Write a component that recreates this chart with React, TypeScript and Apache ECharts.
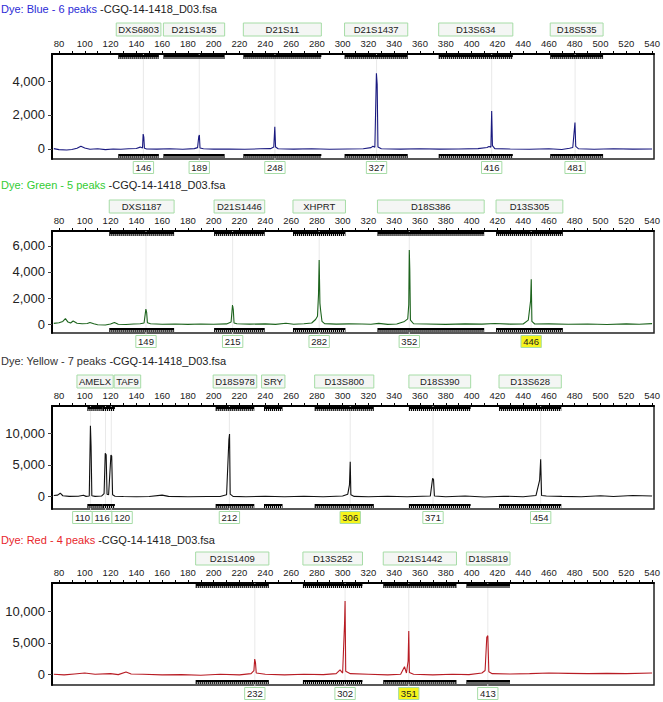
import React, { useEffect, useRef } from "react";
import * as echarts from "echarts";

const FONT = "'Liberation Sans', Arial, Helvetica, sans-serif";
const fileName = " -CGQ-14-1418_D03.fsa";

// x axis tick labels (bp)
const xTickLabels = [80, 100, 120, 140, 160, 180, 200, 220, 240, 260, 280, 300, 320, 340, 360, 380, 400, 420, 440, 460, 480, 500, 520, 540];
const xTickMarks = [80, 90, 100, 110, 120, 130, 140, 150, 160, 170, 180, 190, 200, 210, 220, 230, 240, 250, 260, 270, 280, 290, 300, 310, 320, 330, 340, 350, 360, 370, 380, 390, 400, 410, 420, 430, 440, 450, 460, 470, 480, 490, 500, 510, 520, 530, 540];

// y tick labels
const yTicksBlue = [0, 2000, 4000];
const yTicksGreen = [0, 2000, 4000, 6000];
const yTicksYellow = [0, 5000, 10000];
const yTicksRed = [0, 5000, 10000];

// markers (bins)
const markerNamesBlue = ["DXS6803", "D21S1435", "D21S11", "D21S1437", "D13S634", "D18S535"];
const markerStartBlue = [126, 161, 223, 301.5, 374.5, 461];
const markerEndBlue = [157.5, 208.5, 283.5, 350.5, 432, 502];

const markerNamesGreen = ["DXS1187", "D21S1446", "XHPRT", "D18S386", "D13S305"];
const markerStartGreen = [119, 200.3, 261.5, 327, 419];
const markerEndGreen = [169.3, 239.6, 302.2, 409.8, 470.8];

const markerNamesYellow = ["AMELX", "TAF9", "D18S978", "SRY", "D13S800", "D18S390", "D13S628"];
const markerStartYellow = [102, 114, 201.5, 239, 278.3, 351.4, 421.3];
const markerEndYellow = [114, 123.4, 231.5, 253.4, 324.2, 399.3, 469.6];

const markerNamesRed = ["D21S1409", "D13S252", "D21S1442", "D18S819"];
const markerStartRed = [186, 269.2, 331.5, 396];
const markerEndRed = [242.8, 315.4, 388.3, 429.8];

// peak calls
const peakPosBlue = [145.5, 188.8, 247.5, 326.3, 415.6, 480.3];
const peakLabelBlue = ["146", "189", "248", "327", "416", "481"];
const peakPosGreen = [147.5, 214.7, 281.8, 351.7, 446.2];
const peakLabelGreen = ["149", "215", "282", "352", "446"];
const peakPosYellow = [104.5, 116.1, 120.6, 212.2, 305.9, 370.1, 453.6];
const peakLabelYellow = ["110", "116", "120", "212", "306", "371", "454"];
const peakPosRed = [231.9, 301.9, 351.3, 412.6];
const peakLabelRed = ["232", "302", "351", "413"];

const highlightGreen = ["446"];
const highlightYellow = ["306"];
const highlightRed = ["351"];
const highlightBlue: string[] = [];

// traces [bp, RFU]
const traceBlue = [
  [76, 20], [80, -40], [86, -60], [90, -30], [94, 40], [97, 160], [100, 60], [104, -20], [110, 10], [116, -40], [122, 0], [128, -20], [134, 10], [140, 30], [143, 110], [144.8, 60], [145.3, 880], [145.8, 700], [146.3, 40], [148, 0], [156, -10], [166, 10], [176, -20], [185, 20], [187.5, 80], [188.4, 720], [188.9, 820], [189.4, 60], [192, 10], [200, -10], [212, 0], [224, -20], [236, 10], [244, 20], [246.6, 110], [247.4, 1300], [248, 120], [250, 10], [262, -10], [276, 10], [290, -20], [304, 0], [316, 10], [322, 80], [323.5, 160], [325, 100], [326.2, 4450], [326.8, 3800], [327.4, 120], [330, 10], [345, -10], [360, 10], [375, -10], [390, 0], [405, 20], [412, 90], [413.5, 150], [415, 110], [415.6, 2230], [416.2, 200], [418, 20], [430, 0], [445, -20], [460, 10], [470, -30], [476, 40], [478.5, 90], [480.2, 1550], [480.8, 150], [483, 10], [495, -20], [510, 10], [525, -10], [540, 0],
];
const traceGreen = [
  [76, 50], [80, 100], [83, 200], [85, 420], [87, 150], [89, 80], [91, 230], [94, 60], [98, 20], [102, 40], [104, 120], [107, 20], [110, -60], [116, -80], [120, 0], [123, 110], [126, -20], [132, -40], [138, 0], [143, 20], [146, 80], [147.4, 1150], [148, 900], [148.6, 100], [151, 20], [160, -20], [170, 0], [180, -30], [190, 0], [200, -20], [210, 10], [213.5, 150], [214.6, 1460], [215.2, 1100], [215.8, 80], [218, 20], [228, -10], [240, 10], [248, -30], [256, 60], [262, -20], [270, 20], [276, 80], [279, 350], [280.5, 600], [281.3, 2280], [281.8, 4920], [282.4, 1600], [283, 1000], [284, 200], [286, 30], [295, -10], [305, 10], [315, 0], [322, -20], [328, 50], [335, -30], [342, 0], [348, 200], [350.5, 400], [351.3, 1500], [351.7, 5690], [352.1, 4150], [352.6, 300], [355, 20], [365, 0], [380, -30], [395, 10], [408, -10], [418, 40], [430, -10], [440, 0], [444, 300], [445.8, 1800], [446.3, 3440], [446.8, 200], [449, 0], [460, 10], [475, -20], [490, 0], [505, -40], [520, 10], [530, -20], [540, 30],
];
const traceYellow = [
  [76, 200], [79, 250], [81, 550], [83, 150], [88, 50], [95, 80], [99, 220], [101, 50], [103.5, 100], [104.4, 11200], [104.9, 8000], [105.5, 150], [108, 50], [113, 100], [115, 500], [115.9, 6840], [116.6, 6600], [117.3, 400], [118.5, 300], [120.3, 6580], [120.9, 6400], [121.6, 300], [123.5, 80], [130, 40], [140, 0], [150, 30], [160, 250], [165, 50], [180, 0], [195, 20], [205, 40], [210, 300], [211.8, 9000], [212.3, 9890], [212.8, 400], [215, 50], [225, 0], [240, 80], [255, 0], [270, 60], [285, 0], [300, 100], [304, 400], [305.3, 1850], [305.9, 5520], [306.4, 300], [309, 50], [320, 0], [335, 80], [350, 0], [368, 100], [369.8, 2900], [370.5, 2700], [371.2, 120], [380, 0], [395, 100], [410, -50], [425, 80], [440, 0], [450, 200], [452.8, 2630], [453.6, 5900], [454.3, 200], [458, 100], [470, 50], [485, 0], [500, 150], [510, 30], [525, 200], [540, 100],
];
const traceRed = [
  [76, 0], [84, -100], [92, 50], [100, 200], [108, 0], [120, 100], [126, -50], [132, 350], [136, 50], [145, 0], [160, -100], [175, -50], [190, -150], [205, 0], [220, -100], [229, 100], [231.2, 600], [231.8, 2440], [232.4, 1900], [233, 200], [240, 0], [255, -100], [270, 0], [285, -50], [295, 100], [298, 700], [300, 200], [301.5, 8150], [301.9, 11700], [302.4, 500], [306, 100], [320, 0], [335, -100], [345, 0], [348, 1200], [349.5, 200], [350.8, 2120], [351.3, 6920], [351.8, 300], [355, 0], [370, -100], [385, 0], [398, -50], [408, 200], [410.5, 600], [411.8, 5900], [412.6, 6170], [413.4, 400], [416, 100], [430, 50], [445, 100], [460, 200], [475, 150], [490, 100], [505, 150], [520, 100], [540, 200],
];

type Panel = {
  dye: string; dyeColor: string; lineColor: string; titleTop: number;
  top: number; height: number; yMin: number; yMax: number; yTicks: number[];
  mNames: string[]; mStart: number[]; mEnd: number[];
  pPos: number[]; pLabel: string[]; hl: string[]; trace: number[][];
};

const panels: Panel[] = [
  { dye: "Dye: Blue - 6 peaks", dyeColor: "#2b2bd6", lineColor: "#1a1a80", titleTop: 3, top: 54, height: 105, yMin: -590, yMax: 5590, yTicks: yTicksBlue, mNames: markerNamesBlue, mStart: markerStartBlue, mEnd: markerEndBlue, pPos: peakPosBlue, pLabel: peakLabelBlue, hl: highlightBlue, trace: traceBlue },
  { dye: "Dye: Green - 5 peaks", dyeColor: "#33cc33", lineColor: "#1d641d", titleTop: 179, top: 231, height: 102, yMin: -690, yMax: 7150, yTicks: yTicksGreen, mNames: markerNamesGreen, mStart: markerStartGreen, mEnd: markerEndGreen, pPos: peakPosGreen, pLabel: peakLabelGreen, hl: highlightGreen, trace: traceGreen },
  { dye: "Dye: Yellow - 7 peaks", dyeColor: "#333333", lineColor: "#111111", titleTop: 355, top: 406, height: 103, yMin: -1940, yMax: 14300, yTicks: yTicksYellow, mNames: markerNamesYellow, mStart: markerStartYellow, mEnd: markerEndYellow, pPos: peakPosYellow, pLabel: peakLabelYellow, hl: highlightYellow, trace: traceYellow },
  { dye: "Dye: Red - 4 peaks", dyeColor: "#e8262b", lineColor: "#b81c24", titleTop: 534, top: 583, height: 102, yMin: -1710, yMax: 14580, yTicks: yTicksRed, mNames: markerNamesRed, mStart: markerStartRed, mEnd: markerEndRed, pPos: peakPosRed, pLabel: peakLabelRed, hl: highlightRed, trace: traceRed },
];

let ctx: CanvasRenderingContext2D | null = null;
function textW(t: string, size: number) {
  if (!ctx) ctx = document.createElement("canvas").getContext("2d");
  if (!ctx) return t.length * size * 0.58;
  ctx.font = `${size}px ${FONT}`;
  return ctx.measureText(t).width;
}

function spread(cs: number[], ws: number[]): number[] {
  type C = { idx: number[]; sum: number; w: number };
  const st = (k: C) => k.sum / k.idx.length - k.w / 2;
  const cl: C[] = [];
  cs.forEach((c, i) => {
    let cur: C = { idx: [i], sum: c, w: ws[i] };
    while (cl.length) {
      const p = cl[cl.length - 1];
      if (st(p) + p.w > st(cur)) {
        cur = { idx: [...p.idx, ...cur.idx], sum: p.sum + cur.sum, w: p.w + cur.w };
        cl.pop();
      } else break;
    }
    cl.push(cur);
  });
  const out: number[] = new Array(cs.length);
  cl.forEach((k) => {
    let x = st(k);
    k.idx.forEach((i) => { out[i] = x + ws[i] / 2; x += ws[i]; });
  });
  return out;
}

const GREENBOX = "#a6dca6";

function markerRender(p: Panel) {
  return (params: any, api: any) => {
    const cs = params.coordSys;
    const top = cs.y, bottom = cs.y + cs.height;
    const x1s = p.mStart.map((v) => api.coord([v, 0])[0]);
    const x2s = p.mEnd.map((v) => api.coord([v, 0])[0]);
    let prevEnd = -1e9;
    const boxes = p.mNames.map((n, k) => {
      const w = Math.max(x2s[k] - x1s[k], textW(n, 9.5) + 4);
      const s = Math.max((x1s[k] + x2s[k]) / 2 - w / 2, prevEnd + 1);
      prevEnd = s + w;
      return { s, w };
    });
    const i = params.dataIndex;
    const x1 = x1s[i], x2 = x2s[i];
    const b = boxes[i];
    return {
      type: "group",
      children: [
        { type: "rect", shape: { x: b.s, y: top - 31, width: b.w, height: 13 }, style: { fill: "#f4f6f4", stroke: GREENBOX, lineWidth: 1 } },
        { type: "text", x: b.s + b.w / 2, y: top - 24.5, style: { text: p.mNames[i], fill: "#222", font: `9.5px ${FONT}`, align: "center", verticalAlign: "middle" } },
        { type: "rect", shape: { x: x1, y: top + 1, width: x2 - x1, height: 2 }, style: { fill: "#000" } },
        { type: "line", shape: { x1, y1: top + 4, x2, y2: top + 4 }, style: { stroke: "#000", lineWidth: 2, lineDash: [1.2, 0.8] } },
        { type: "rect", shape: { x: x1, y: bottom - 5, width: x2 - x1, height: 2 }, style: { fill: "#000" } },
        { type: "line", shape: { x1, y1: bottom - 2, x2, y2: bottom - 2 }, style: { stroke: "#000", lineWidth: 2, lineDash: [1.2, 0.8] } },
      ],
    };
  };
}

function peakRender(p: Panel) {
  return (params: any, api: any) => {
    const cs = params.coordSys;
    const top = cs.y, bottom = cs.y + cs.height;
    const xs = p.pPos.map((v) => api.coord([v, 0])[0]);
    const ws = p.pLabel.map((l) => textW(l, 9.5) + 4.5);
    const centers = spread(xs, ws);
    const i = params.dataIndex;
    const hl = p.hl.includes(p.pLabel[i]);
    return {
      type: "group",
      children: [
        { type: "line", shape: { x1: xs[i], y1: top, x2: xs[i], y2: bottom + 2 }, style: { stroke: "#e3e3e3", lineWidth: 0.8 } },
        { type: "rect", shape: { x: centers[i] - ws[i] / 2, y: bottom + 2.5, width: ws[i], height: 12 }, style: { fill: hl ? "#f6f41c" : "#ffffff", stroke: GREENBOX, lineWidth: 1 } },
        { type: "text", x: centers[i], y: bottom + 8.7, style: { text: p.pLabel[i], fill: "#222", font: `9.5px ${FONT}`, align: "center", verticalAlign: "middle" } },
      ],
    };
  };
}

function buildOption() {
  return {
    animation: false,
    backgroundColor: "#ffffff",
    title: panels.map((p) => ({
      left: 1, top: p.titleTop, padding: 0,
      text: `{c|${p.dye}}{f|${fileName}}`,
      textStyle: {
        fontSize: 11, fontFamily: FONT, fontWeight: "normal",
        rich: {
          c: { color: p.dyeColor, fontSize: 11, fontFamily: FONT },
          f: { color: "#222222", fontSize: 11, fontFamily: FONT },
        },
      },
    })),
    grid: panels.map((p) => ({ left: 52, right: 8, top: p.top, height: p.height, show: true, borderColor: "#222", borderWidth: 1.5, backgroundColor: "transparent" })),
    xAxis: panels.map((p, i) => ({
      type: "value", gridIndex: i, position: "top", min: 74.6, max: 541.5,
      axisLine: { show: true, onZero: false, lineStyle: { color: "#000", width: 2 } },
      axisTick: { show: true, length: 3, customValues: xTickMarks, lineStyle: { color: "#000", width: 1 } },
      axisLabel: { show: true, margin: 6, customValues: xTickLabels, fontSize: 9.5, fontFamily: FONT, color: "#222" },
      splitLine: { show: false },
    })),
    yAxis: panels.map((p, i) => ({
      type: "value", gridIndex: i, min: p.yMin, max: p.yMax,
      axisLine: { show: true, onZero: false, lineStyle: { color: "#000", width: 2 } },
      axisTick: { show: true, length: 4, customValues: p.yTicks, lineStyle: { color: "#444", width: 1 } },
      axisLabel: { show: true, margin: 7, customValues: p.yTicks, fontSize: 13, fontFamily: FONT, color: "#222", formatter: (v: number) => v.toLocaleString("en-US") },
      splitLine: { show: false },
    })),
    series: panels.flatMap((p, i) => [
      {
        type: "custom", xAxisIndex: i, yAxisIndex: i, z: 1, clip: false, silent: true,
        renderItem: peakRender(p),
        data: p.pPos.map((v) => [v, 0]),
        encode: { x: 0, y: 1 },
      },
      {
        type: "line", xAxisIndex: i, yAxisIndex: i, z: 2, data: p.trace, showSymbol: false, symbol: "none",
        lineStyle: { color: p.lineColor, width: 1.1 }, clip: true, silent: true,
      },
      {
        type: "custom", xAxisIndex: i, yAxisIndex: i, z: 3, clip: false, silent: true,
        renderItem: markerRender(p),
        data: p.mStart.map((s, k) => [s, p.mEnd[k], 0]),
        encode: { x: [0, 1], y: 2 },
      },
    ]),
  };
}

export default function App() {
  const ref = useRef<HTMLDivElement>(null);
  useEffect(() => {
    if (!ref.current) return;
    const chart = echarts.init(ref.current, undefined, { renderer: "svg" });
    chart.setOption(buildOption() as any);
    return () => chart.dispose();
  }, []);
  return <div ref={ref} style={{ position: "absolute", left: 0, top: 0, width: 663, height: 702, background: "#fff" }} />;
}
